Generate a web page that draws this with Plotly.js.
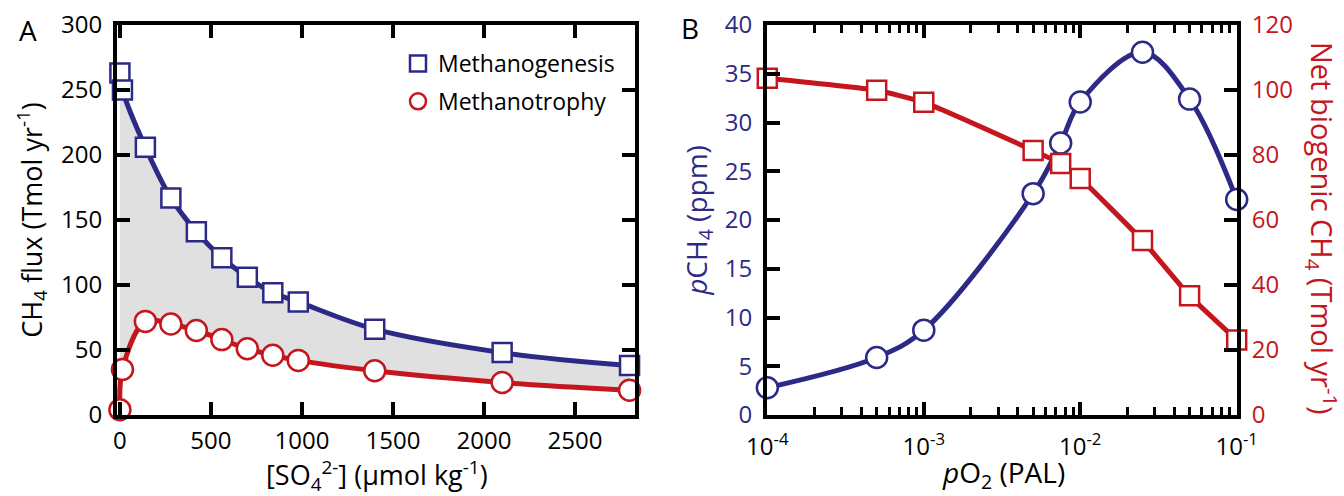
<!DOCTYPE html>
<html>
<head>
<meta charset="utf-8">
<script src="https://cdn.plot.ly/plotly-3.0.1.min.js"></script>
<style>html,body{margin:0;padding:0;background:#fff;}#plot{width:1344px;height:496px;}</style>
</head>
<body>
<div id="plot"></div>
<script>
// Panel A data
const sulfate = [0, 14, 140, 280, 420, 560, 700, 840, 980, 1400, 2100, 2800];
const methanogenesis = [263, 250, 206, 167, 141, 121, 106, 94, 87, 66, 48, 38];
const methanotrophy = [4, 35, 72, 70, 65, 58, 51, 46, 42, 34, 25, 19];
// Panel B data
const pO2 = [1e-4, 5e-4, 1e-3, 5e-3, 7.5e-3, 1e-2, 2.5e-2, 5e-2, 1e-1];
const pCH4 = [2.8, 5.9, 8.7, 22.7, 27.9, 32.1, 37.2, 32.4, 22.1];
const netCH4 = [103.6, 99.9, 96.2, 81.4, 77.4, 72.8, 53.7, 36.7, 23.1];
const logTickVals = [1e-4, 1e-3, 1e-2, 1e-1];
const logTickText = ['10<sup>-4</sup>', '10<sup>-3</sup>', '10<sup>-2</sup>', '10<sup>-1</sup>'];

const BLUE = '#2c2a86';
const RED = '#c4161c';
const FONT = 'Open Sans, Noto Sans, sans-serif';
const W = 1344, H = 496;
const px = v => v / W;
const py = v => 1 - v / H;

const traces = [
  {x: sulfate, y: methanotrophy, xaxis: 'x', yaxis: 'y', mode: 'lines', line: {color: RED, width: 5, shape: 'spline', smoothing: 1}, showlegend: false, hoverinfo: 'skip'},
  {x: sulfate, y: methanogenesis, xaxis: 'x', yaxis: 'y', mode: 'lines', fill: 'tonexty', fillcolor: '#e0e0e0', line: {color: BLUE, width: 5, shape: 'spline', smoothing: 1}, showlegend: false, hoverinfo: 'skip'},
  {x: sulfate, y: methanogenesis, xaxis: 'x', yaxis: 'y', mode: 'markers', name: 'Methanogenesis', legendgroup: 'a',
   marker: {symbol: 'square', size: 19, color: '#ffffff', line: {color: BLUE, width: 2.5}}, cliponaxis: false},
  {x: sulfate, y: methanotrophy, xaxis: 'x', yaxis: 'y', mode: 'markers', name: 'Methanotrophy', legendgroup: 'b',
   marker: {symbol: 'circle', size: 21, color: '#ffffff', line: {color: RED, width: 2.5}}, cliponaxis: false},
  {x: pO2, y: pCH4, xaxis: 'x2', yaxis: 'y3', mode: 'lines', line: {color: BLUE, width: 5, shape: 'spline', smoothing: 1}, showlegend: false, cliponaxis: false},
  {x: pO2, y: netCH4, xaxis: 'x2', yaxis: 'y4', mode: 'lines', line: {color: RED, width: 5, shape: 'spline', smoothing: 0.4}, showlegend: false, cliponaxis: false},
  {x: pO2, y: pCH4, xaxis: 'x2', yaxis: 'y3', mode: 'markers', showlegend: false,
   marker: {symbol: 'circle', size: 21, color: '#ffffff', line: {color: BLUE, width: 2.5}}, cliponaxis: false},
  {x: pO2, y: netCH4, xaxis: 'x2', yaxis: 'y4', mode: 'markers', showlegend: false,
   marker: {symbol: 'square', size: 19, color: '#ffffff', line: {color: RED, width: 2.5}}, cliponaxis: false}
];

const axBase = {showgrid: false, zeroline: false, showline: true, linecolor: '#000', linewidth: 4,
  ticks: 'inside', ticklen: 13, tickwidth: 4, tickcolor: '#000', fixedrange: true,
  tickfont: {family: FONT, size: 24, color: '#000'}};

const layout = {
  width: W, height: H,
  margin: {l: 0, r: 0, t: 0, b: 0},
  paper_bgcolor: '#fff', plot_bgcolor: 'rgba(0,0,0,0)',
  font: {family: FONT, color: '#000'},
  showlegend: true,
  legend: {x: px(398), y: py(42), xanchor: 'left', yanchor: 'top', bgcolor: 'rgba(0,0,0,0)',
    font: {family: FONT, size: 23, color: '#000'}, traceorder: 'grouped', tracegroupgap: 5, itemwidth: 30},
  xaxis: Object.assign({}, axBase, {domain: [px(117), px(635)], anchor: 'y', range: [-16, 2830], tick0: 0, dtick: 500, mirror: 'ticks',
    ticklabelstandoff: 1}),
  yaxis: Object.assign({}, axBase, {domain: [py(415), py(25)], anchor: 'x', range: [0, 300], dtick: 50, mirror: 'ticks',
    ticklabelstandoff: 6,
    title: {text: 'CH<sub>4</sub> flux (Tmol yr<sup>-1</sup>)', font: {family: FONT, size: 27, color: '#000'}, standoff: 12}}),
  xaxis2: Object.assign({}, axBase, {domain: [px(767), px(1237)], anchor: 'y3', type: 'log', range: [-4.002, -0.998], mirror: 'ticks',
    tickvals: logTickVals, ticktext: logTickText, ticklabelstandoff: 7,
    minor: {ticks: 'inside', ticklen: 8, tickwidth: 3, tickcolor: '#000', dtick: 'D1', showgrid: false}}),
  yaxis3: Object.assign({}, axBase, {domain: [py(415), py(25)], anchor: 'x2', range: [0, 40], dtick: 5, mirror: false,
    ticklabelstandoff: 6, tickfont: {family: FONT, size: 24, color: BLUE},
    title: {text: '<i>p</i>CH<sub>4</sub> (ppm)', font: {family: FONT, size: 28, color: BLUE}, standoff: 10}}),
  yaxis4: Object.assign({}, axBase, {domain: [py(415), py(25)], anchor: 'x2', overlaying: 'y3', side: 'right', range: [0, 120], dtick: 20,
    ticklabelstandoff: 6, tickfont: {family: FONT, size: 24, color: RED}}),
  annotations: [
    {text: 'A', xref: 'paper', yref: 'paper', x: px(28), y: py(30), xanchor: 'center', yanchor: 'middle', showarrow: false, font: {family: FONT, size: 28, color: '#000'}},
    {text: 'B', xref: 'paper', yref: 'paper', x: px(690), y: py(28), xanchor: 'center', yanchor: 'middle', showarrow: false, font: {family: FONT, size: 28, color: '#000'}},
    {text: '[SO<sub>4</sub><sup>2-</sup>] (µmol kg<sup>-1</sup>)', xref: 'paper', yref: 'paper', x: px(377), y: py(475), xanchor: 'center', yanchor: 'middle',
     showarrow: false, font: {family: FONT, size: 27, color: '#000'}},
    {text: '<i>p</i>O<sub>2</sub> (PAL)', xref: 'paper', yref: 'paper', x: px(1003), y: py(474), xanchor: 'center', yanchor: 'middle',
     showarrow: false, font: {family: FONT, size: 28, color: '#000'}},
    {text: 'Net biogenic CH<sub>4</sub> (Tmol yr<sup>-1</sup>)', xref: 'paper', yref: 'paper', x: px(1322), y: py(228), xanchor: 'center', yanchor: 'middle',
     textangle: 90, showarrow: false, font: {family: FONT, size: 29, color: RED}}
  ]
};

Plotly.newPlot('plot', traces, layout, {staticPlot: true, displayModeBar: false});
</script>
</body>
</html>
